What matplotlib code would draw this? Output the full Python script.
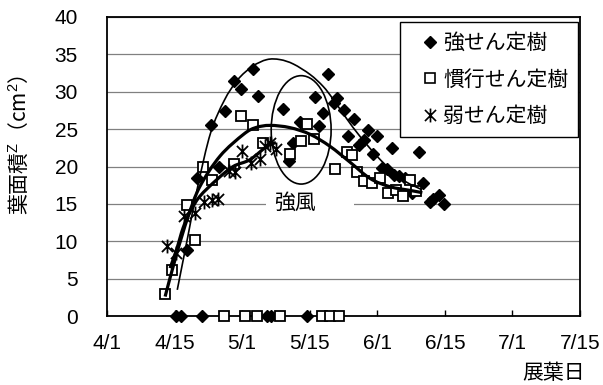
import numpy as np
import matplotlib
matplotlib.use('Agg')
import matplotlib.pyplot as plt
from matplotlib.path import Path
from matplotlib.patches import PathPatch, Ellipse, Rectangle
from matplotlib.lines import Line2D

plt.rcParams['font.family'] = ['Liberation Sans', 'Noto Sans CJK JP']
plt.rcParams['mathtext.fontset'] = 'custom'
plt.rcParams['mathtext.rm'] = 'Liberation Sans'
plt.rcParams['mathtext.it'] = 'Liberation Sans'
plt.rcParams['mathtext.default'] = 'rm'

# ---------------- data (x = days after 4/1, axis ticks every 15 units) -------------
tick_pos = [0, 15, 30, 45, 60, 75, 90, 105]
tick_labels = ['4/1', '4/15', '5/1', '5/15', '6/1', '6/15', '7/1', '7/15']
y_ticks = [0, 5, 10, 15, 20, 25, 30, 35, 40]

series_names = ['強せん定樹', '慣行せん定樹', '弱せん定樹']

strong_x = [17.7, 20.0, 23.0, 24.9, 26.3, 28.3, 29.7, 32.3, 33.6, 39.0, 40.5, 41.2,
            42.8, 46.2, 47.1, 47.9, 49.1, 50.5, 51.1, 52.6, 53.6, 54.8, 56.0, 57.1,
            58.0, 59.1, 60.0, 61.0, 62.2, 63.2, 63.8, 64.9, 66.1, 67.6, 69.3, 70.2,
            71.7, 72.4, 73.8, 74.9]
strong_y = [8.8, 18.5, 25.6, 20.0, 27.4, 31.5, 30.4, 33.1, 29.4, 27.7, 20.8, 23.2,
            26.0, 29.3, 25.4, 27.2, 32.4, 28.5, 29.2, 27.5, 24.1, 26.4, 22.9, 23.6,
            24.9, 21.7, 24.1, 19.8, 19.6, 22.5, 18.9, 18.7, 18.5, 16.4, 21.9, 17.8,
            15.3, 15.7, 16.2, 15.0]
strong_zero_x = [15.3, 16.4, 21.0, 35.6, 36.5, 44.3]

conv_x = [12.9, 14.4, 17.7, 19.5, 21.2, 23.4, 28.2, 29.7, 32.3, 34.7, 40.6, 43.1,
          44.5, 46.0, 50.6, 53.2, 54.3, 55.6, 57.1, 58.8, 60.6, 62.4, 64.1, 65.8,
          67.3, 68.7]
conv_y = [2.9, 6.1, 14.9, 10.2, 20.0, 18.2, 20.4, 26.8, 25.5, 23.2, 21.7, 23.4,
          25.7, 23.7, 19.6, 22.0, 21.6, 19.2, 18.0, 17.8, 18.5, 16.4, 16.9, 16.0,
          18.2, 16.7]
conv_zero_x = [26.0, 30.7, 33.2, 38.5, 47.7, 49.5, 51.6]

weak_x = [13.3, 15.3, 17.2, 19.5, 21.5, 23.4, 24.7, 27.1, 28.4, 29.9, 31.9, 34.0,
          35.1, 36.2, 37.5]
weak_y = [9.4, 8.4, 13.4, 13.8, 15.3, 15.5, 15.7, 19.4, 19.2, 22.1, 20.5, 21.0,
          22.7, 23.1, 22.3]

# trend curves
strong_curve_x = [15.6, 18.0, 20.2, 23.0, 26.0, 29.0, 32.3, 35.5, 38.4, 41.4, 45.1,
                  48.0, 50.2, 53.2, 56.2, 59.9, 63.6, 66.5, 69.9]
strong_curve_y = [3.5, 10.8, 17.5, 24.5, 28.8, 31.6, 33.4, 34.3, 34.3, 33.7, 32.3,
                  30.7, 29.0, 26.4, 24.0, 21.4, 19.2, 17.9, 16.9]
conv_curve_x = [12.9, 15.5, 18.0, 20.6, 25.1, 30.3, 33.0, 36.2, 40.6, 45.1, 49.5,
                53.9, 58.4, 62.8, 67.3, 70.0]
conv_curve_y = [2.6, 8.4, 13.3, 17.3, 21.4, 24.3, 25.2, 25.5, 25.2, 24.3, 22.7,
                20.6, 18.4, 17.3, 16.8, 16.5]
weak_curve_x = [14.0, 15.5, 16.9, 18.5, 20.6, 24.3, 28.0, 31.7, 35.5, 37.5]
weak_curve_y = [6.4, 9.0, 11.8, 14.0, 16.0, 18.2, 20.0, 20.9, 22.7, 23.2]

wind_label = '強風'
wind_center = (43.1, 24.9)
wind_size = (13.3, 14.5)

# ---------------- figure ----------------
fig = plt.figure(figsize=(6.03, 3.85), dpi=100)
ax = fig.add_axes([107/603, 1-316/385, 473/603, 299/385])

ax.set_xlim(0, 105)
ax.set_ylim(0, 40)
ax.set_xticks(tick_pos)
ax.set_xticklabels(tick_labels)
ax.set_yticks(y_ticks)
ax.yaxis.grid(True, color='#808080', lw=0.9, zorder=0)
ax.set_axisbelow(True)
for s in ax.spines.values():
    s.set_linewidth(1.3)
    s.set_color('black')
ax.tick_params(axis='x', direction='in', length=4.5, width=1, pad=13, labelsize=15)
ax.tick_params(axis='y', direction='out', length=0, pad=21, labelsize=15)

def smooth_path(xs, ys):
    pts = np.column_stack([xs, ys])
    n = len(pts)
    verts = [pts[0]]
    codes = [Path.MOVETO]
    for i in range(n - 1):
        p0 = pts[i - 1] if i > 0 else pts[i]
        p1 = pts[i]
        p2 = pts[i + 1]
        p3 = pts[i + 2] if i + 2 < n else pts[i + 1]
        c1 = p1 + (p2 - p0) / 6.0
        c2 = p2 - (p3 - p1) / 6.0
        verts += [c1, c2, p2]
        codes += [Path.CURVE4] * 3
    return Path(verts, codes)

# Excel-style star marker: an X plus a vertical bar
star_marker = Path([(0, -1), (0, 1), (-0.8, -0.8), (0.8, 0.8), (-0.8, 0.8), (0.8, -0.8)],
                   [Path.MOVETO, Path.LINETO, Path.MOVETO, Path.LINETO, Path.MOVETO, Path.LINETO])

# white box behind label (breaks the gridline)
ax.add_patch(Rectangle((35.3, 13.9), 19.5, 2.4, facecolor='white', edgecolor='none', zorder=1))
ax.text(37.1, 15.15, wind_label, fontsize=15, ha='left', va='center', zorder=2,
        family=['Noto Sans CJK JP'])

# markers
ax.plot(strong_x, strong_y, ls='none', marker='D', ms=6.5, color='black', zorder=3)
ax.plot(conv_x, conv_y, ls='none', marker='s', ms=7, mfc='white', mec='black', mew=1.3, zorder=3)
ax.plot(weak_x, weak_y, ls='none', marker=star_marker, ms=10, color='black', mew=1.3, zorder=3)
ax.plot(strong_zero_x, [0]*len(strong_zero_x), ls='none', marker='D', ms=6.5, color='black',
        zorder=4, clip_on=False)
ax.plot(conv_zero_x, [0]*len(conv_zero_x), ls='none', marker='s', ms=7, mfc='white', mec='black',
        mew=1.3, zorder=4, clip_on=False)

# curves
ax.add_patch(PathPatch(smooth_path(strong_curve_x, strong_curve_y), fill=False, lw=1.2,
                       edgecolor='black', zorder=5))
ax.add_patch(PathPatch(smooth_path(conv_curve_x, conv_curve_y), fill=False, lw=2.3,
                       edgecolor='black', zorder=5))
ax.add_patch(PathPatch(smooth_path(weak_curve_x, weak_curve_y), fill=False, lw=2.3,
                       edgecolor='black', zorder=5))

ax.add_patch(Ellipse(wind_center, wind_size[0], wind_size[1], fill=False, lw=1.2,
                     edgecolor='black', zorder=5))

# legend
handles = [
    Line2D([], [], ls='none', marker='D', ms=6, color='black'),
    Line2D([], [], ls='none', marker='s', ms=6.5, mfc='white', mec='black', mew=1.2),
    Line2D([], [], ls='none', marker=star_marker, ms=10, color='black', mew=1.2),
]
leg = ax.legend(handles, series_names, loc='upper right', bbox_to_anchor=(0.996, 0.983),
                frameon=True, fancybox=False, framealpha=1, edgecolor='black',
                handlelength=1.9, handletextpad=-0.3, borderpad=0.47, labelspacing=0.7,
                borderaxespad=0, prop={'family': ['Noto Sans CJK JP'], 'size': 15})
leg.get_frame().set_linewidth(1.0)
leg.set_zorder(6)

# axis labels
ax.set_ylabel('葉面積$^{\\mathrm{Z}}$（cm$^{2}$）', fontsize=15, family='Noto Sans CJK JP')
ax.yaxis.set_label_coords(-0.16, 0.572)
fig.text(554/603, 1-373/385, '展葉日', fontsize=15, ha='center', va='center',
         family=['Noto Sans CJK JP'])

fig.savefig('out.png', dpi=100)
